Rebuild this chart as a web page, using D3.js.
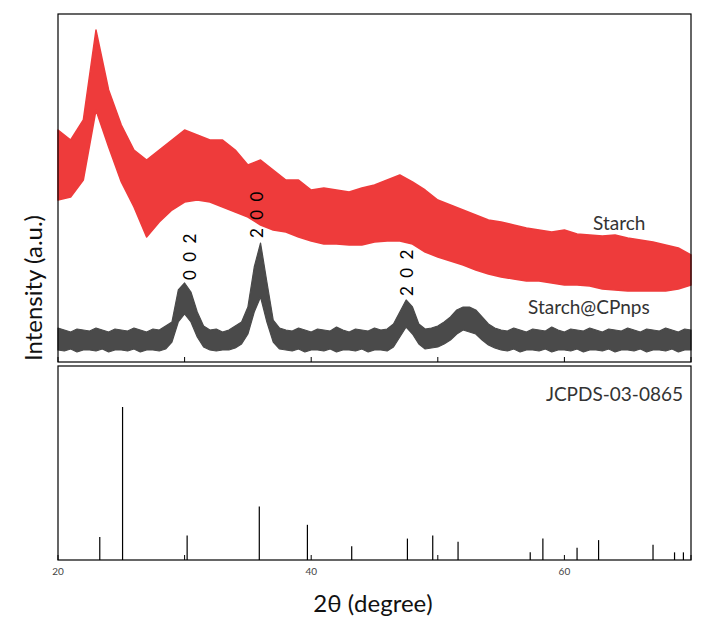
<!DOCTYPE html>
<html><head><meta charset="utf-8">
<script src="https://cdn.jsdelivr.net/npm/d3@7"></script>
<style>
body { margin:0; background:#fff; }
text { font-family: Lato, "Open Sans", sans-serif; }
</style></head>
<body><svg id="chart" width="709" height="629"></svg>
<script>
// Starch scan: noise envelope, 1 deg steps from 20 to 70
var starchHi = [232,222,242,332,272,237,212,202,212,222, 232,227,222,222,212,197,202,192,182,182, 172,174,172,170,174,177,182,187,180,172, 162,157,152,147,142,140,137,134,132,130, 132,128,127,126,127,124,122,120,117,114, 107];
var starchLo = [162,165,182,252,215,180,155,125,140,152, 160,162,160,155,150,145,137,132,130,125, 121,118,118,117,117,120,121,121,118,110, 105,101,97,92,88,85,83,81,81,79, 77,77,76,73,72,71,71,71,71,73, 77];
// Starch@CPnps scan: noise envelope, 0.5 deg steps from 20 to 70
var cpHi = [34,32,30,33,32,31,34,32,30,33,32,31,34,32,30,33,32,36,
    40,72,79,70,50,36,32,33,30,32,36,40,55,95,119,80,42,34,32,
    31,34,32,30,33,32,31,35,32,30,33,32,31,34,32,33,
    38,50,62,55,38,33,34,36,40,45,52,55,55,52,45,38,34,32,
    31,34,32,30,33,32,31,35,32,30,33,32,31,34,32,30,33,32,31,34,32,30,33,32,31,34,32,30,33,32];
var cpLo = [12,11,13,10,12,12,11,13,10,12,12,11,13,10,12,12,11,13,
    20,40,48,40,25,15,12,11,12,12,14,18,28,50,65,40,20,13,12,
    11,13,10,12,12,11,13,10,12,12,11,13,10,12,12,11,
    15,25,35,28,18,13,14,15,18,22,28,32,30,28,22,17,14,12,
    11,13,10,12,12,11,13,10,12,12,11,13,10,12,12,11,13,10,12,12,11,13,10,12,12,11,13,10,12,12];
var refPos = [23.3,25.1,30.2,35.9,39.7,43.2,47.6,49.6,51.6,57.3,58.3,61.0,62.7,67.0,68.7,69.4];
var refInt = [15,100,16,35,23,9,14,16,12,5,14,8,13,10,5,5];
var peaks = [{label:"0 0 2", x:30.4, y:82}, {label:"2 0 0", x:35.7, y:124}, {label:"2 0 2", x:47.6, y:66}];
var xTicks = [20,30,40,50,60,70], xLabels = [20,40,60];

var svg = d3.select("#chart");
var left = 58, right = 691, top1 = 14, bot1 = 362, top2 = 366, bot2 = 560;

var x = d3.scaleLinear().domain([20,70]).range([left,right]);
var y1 = d3.scaleLinear().domain([0,348]).range([bot1,top1]);
var y2 = d3.scaleLinear().domain([0,100]).range([bot2,407]);

function band(hi, lo, step) {
    return d3.area()
        .x(function(d,i) { return x(20+step*i); })
        .y0(function(d,i) { return y1(lo[i]); })
        .y1(function(d) { return y1(d); })(hi);
}

svg.append("path").attr("d", band(starchHi, starchLo, 1))
    .attr("fill","#ee3b3b").attr("stroke","#ee3b3b").attr("stroke-width",1.5).attr("stroke-linejoin","round");
svg.append("path").attr("d", band(cpHi, cpLo, 0.5))
    .attr("fill","#4a4a4a").attr("stroke","#4a4a4a").attr("stroke-width",1.2).attr("stroke-linejoin","round");

svg.selectAll(".stick").data(refPos).enter().append("line")
    .attr("x1", function(d) { return x(d); })
    .attr("x2", function(d) { return x(d); })
    .attr("y1", y2(0))
    .attr("y2", function(d,i) { return y2(refInt[i]); })
    .attr("stroke","#000").attr("stroke-width",1.2);

// frames
[[top1,bot1],[top2,bot2]].forEach(function(p) {
    svg.append("rect").attr("x",left).attr("y",p[0])
        .attr("width",right-left).attr("height",p[1]-p[0])
        .attr("fill","none").attr("stroke","#000").attr("stroke-width",1.2);
    svg.selectAll(null).data(xTicks).enter().append("line")
        .attr("x1", function(d) { return x(d); }).attr("x2", function(d) { return x(d); })
        .attr("y1", p[1]).attr("y2", p[1]-5).attr("stroke","#000");
});

svg.selectAll(".xl").data(xLabels).enter().append("text")
    .attr("x", function(d) { return x(d); }).attr("y", 575)
    .attr("text-anchor","middle").attr("font-size",10).attr("fill","#444")
    .text(function(d) { return d; });

svg.selectAll(".pk").data(peaks).enter().append("text")
    .attr("transform", function(d) { return "translate("+(x(d.x)+6)+","+(y1(d.y))+") rotate(-90)"; })
    .attr("font-size",17).attr("fill","#000").attr("letter-spacing",2)
    .text(function(d) { return d.label; });

svg.append("text").attr("x",593).attr("y",230).attr("font-size",19).attr("fill","#333").text("Starch");
svg.append("text").attr("x",528).attr("y",314).attr("font-size",19).attr("fill","#333").text("Starch@CPnps");
svg.append("text").attr("x",683).attr("y",401).attr("text-anchor","end").attr("font-size",19).attr("fill","#333").text("JCPDS-03-0865");

svg.append("text").attr("transform","translate(42,288) rotate(-90)")
    .attr("text-anchor","middle").attr("font-size",24).attr("fill","#111").text("Intensity (a.u.)");
svg.append("text").attr("x",373).attr("y",612)
    .attr("text-anchor","middle").attr("font-size",24).attr("fill","#111").text("2θ (degree)");
</script></body></html>
